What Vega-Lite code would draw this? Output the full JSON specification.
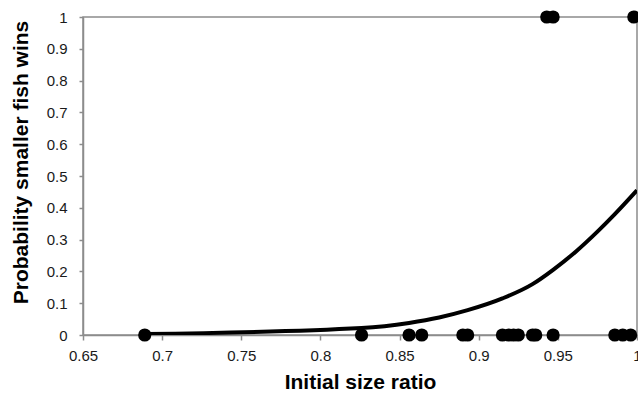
{
  "$schema": "https://vega.github.io/schema/vega-lite/v6.json",
  "width": 554,
  "height": 318,
  "autosize": {"type": "none"},
  "padding": {"left": 83, "top": 17, "right": 1, "bottom": 59},
  "background": "white",
  "config": {
    "view": {"stroke": "#8c8c8c", "strokeWidth": 1.5},
    "axis": {
      "labelFont": "Liberation Sans",
      "titleFont": "Liberation Sans",
      "labelFontSize": 15,
      "titleFontSize": 21,
      "titleFontWeight": "bold",
      "labelColor": "#1a1a1a",
      "titleColor": "black",
      "domainColor": "#8c8c8c",
      "domainWidth": 1.5,
      "tickColor": "#8c8c8c",
      "tickWidth": 1.5,
      "tickSize": 5,
      "grid": false,
      "labelOverlap": false
    }
  },
  "datasets": {
    "obs": [
      {"ratio": 0.689, "win": 0},
      {"ratio": 0.826, "win": 0},
      {"ratio": 0.856, "win": 0},
      {"ratio": 0.864, "win": 0},
      {"ratio": 0.890, "win": 0},
      {"ratio": 0.893, "win": 0},
      {"ratio": 0.915, "win": 0},
      {"ratio": 0.919, "win": 0},
      {"ratio": 0.922, "win": 0},
      {"ratio": 0.925, "win": 0},
      {"ratio": 0.934, "win": 0},
      {"ratio": 0.936, "win": 0},
      {"ratio": 0.947, "win": 0},
      {"ratio": 0.986, "win": 0},
      {"ratio": 0.991, "win": 0},
      {"ratio": 0.996, "win": 0},
      {"ratio": 0.943, "win": 1},
      {"ratio": 0.947, "win": 1},
      {"ratio": 0.998, "win": 1}
    ],
    "fit": [
      {"ratio": 0.689, "win": 0.003},
      {"ratio": 0.826, "win": 0.022},
      {"ratio": 0.856, "win": 0.038},
      {"ratio": 0.875, "win": 0.055},
      {"ratio": 0.893, "win": 0.078},
      {"ratio": 0.915, "win": 0.115},
      {"ratio": 0.934, "win": 0.16},
      {"ratio": 0.947, "win": 0.205},
      {"ratio": 0.962, "win": 0.265},
      {"ratio": 0.975, "win": 0.325},
      {"ratio": 0.986, "win": 0.38},
      {"ratio": 1.0, "win": 0.455}
    ]
  },
  "encoding": {
    "x": {
      "field": "ratio",
      "type": "quantitative",
      "scale": {"domain": [0.65, 1], "nice": false, "zero": false},
      "axis": {
        "title": "Initial size ratio",
        "values": [0.65, 0.7, 0.75, 0.8, 0.85, 0.9, 0.95, 1],
        "format": "~g",
        "labelPadding": 8,
        "titlePadding": 8,
        "labelFlush": false
      }
    },
    "y": {
      "field": "win",
      "type": "quantitative",
      "scale": {"domain": [0, 1], "nice": false},
      "axis": {
        "title": "Probability smaller fish wins",
        "values": [0, 0.1, 0.2, 0.3, 0.4, 0.5, 0.6, 0.7, 0.8, 0.9, 1],
        "format": "~g",
        "tickSize": 4,
        "labelPadding": 12,
        "titleX": -62,
        "titleY": 145,
        "titleAngle": -90,
        "titleAlign": "center",
        "titleBaseline": "middle"
      }
    }
  },
  "layer": [
    {
      "data": {"name": "fit"},
      "mark": {"type": "line", "color": "black", "strokeWidth": 4, "interpolate": "monotone", "clip": true}
    },
    {
      "data": {"name": "obs"},
      "mark": {"type": "point", "filled": true, "color": "black", "opacity": 1, "size": 175}
    }
  ]
}
